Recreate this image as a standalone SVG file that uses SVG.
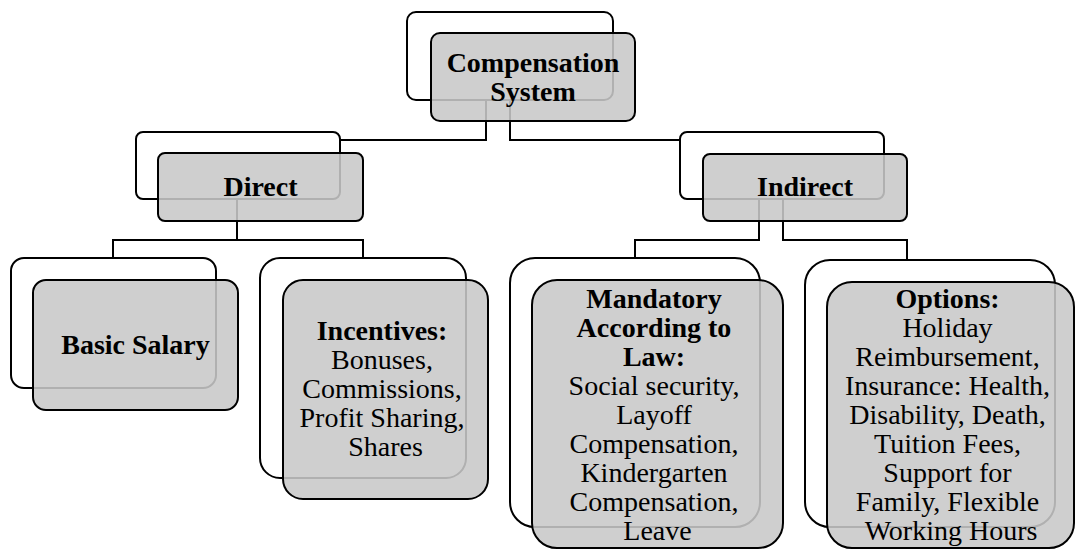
<svg xmlns="http://www.w3.org/2000/svg" width="1075" height="549" viewBox="0 0 1075 549">
  <style>
    .link { fill: none; stroke: #000; stroke-width: 2; }
    .back { fill: #fff; stroke: #000; stroke-width: 2; }
    .front { fill: #c8c8c8; fill-opacity: 0.88; stroke: #000; stroke-width: 2; }
    text { font-family: "Liberation Serif", "Times New Roman", serif; font-size: 28px; fill: #000; text-anchor: middle; }
    .b { font-weight: bold; }
  </style>

  <!-- tree connectors -->
  <g id="connectors">
    <path class="link" d="M486,100 V140 H340"/>
    <path class="link" d="M510,100 V140 H680"/>
    <path class="link" d="M237,199 V240 H113 V258"/>
    <path class="link" d="M237,240 H363 V258"/>
    <path class="link" d="M759,199 V240 H635 V258"/>
    <path class="link" d="M783,199 V240 H907 V260"/>
  </g>

  <g id="node-compensation">
    <rect class="back" x="407" y="12" width="206" height="88" rx="9"/>
    <rect class="front" x="431" y="33" width="204" height="88" rx="9"/>
    <text class="b"><tspan x="533" y="72">Compensation</tspan><tspan x="533" y="101">System</tspan></text>
  </g>

  <g id="node-direct">
    <rect class="back" x="136" y="132" width="204" height="67" rx="7"/>
    <rect class="front" x="158" y="153" width="205" height="68" rx="7"/>
    <text class="b" x="260.5" y="196">Direct</text>
  </g>

  <g id="node-indirect">
    <rect class="back" x="680" y="132" width="204" height="67" rx="7"/>
    <rect class="front" x="703" y="154" width="204" height="67" rx="7"/>
    <text class="b" x="805" y="196">Indirect</text>
  </g>

  <g id="node-basic-salary">
    <rect class="back" x="11" y="258" width="205" height="130" rx="13"/>
    <rect class="front" x="33" y="280" width="205" height="130" rx="13"/>
    <text class="b" x="135.5" y="354">Basic Salary</text>
  </g>

  <g id="node-incentives">
    <rect class="back" x="260" y="258" width="206" height="220" rx="20"/>
    <rect class="front" x="283" y="280" width="205" height="219" rx="20"/>
    <text>
      <tspan class="b" x="385.5" y="340">Incentives:</tspan>
      <tspan x="385.5" y="369">Bonuses,</tspan>
      <tspan x="385.5" y="398">Commissions,</tspan>
      <tspan x="385.5" y="427">Profit Sharing,</tspan>
      <tspan x="385.5" y="456">Shares</tspan>
    </text>
  </g>

  <g id="node-mandatory">
    <rect class="back" x="510" y="258" width="250" height="269" rx="25"/>
    <rect class="front" x="532" y="280" width="251" height="268" rx="25"/>
    <text>
      <tspan class="b" x="657.5" y="308">Mandatory</tspan>
      <tspan class="b" x="657.5" y="337">According to</tspan>
      <tspan class="b" x="657.5" y="366">Law:</tspan>
      <tspan x="657.5" y="395">Social security,</tspan>
      <tspan x="657.5" y="424">Layoff</tspan>
      <tspan x="657.5" y="453">Compensation,</tspan>
      <tspan x="657.5" y="482">Kindergarten</tspan>
      <tspan x="657.5" y="511">Compensation,</tspan>
      <tspan x="657.5" y="540">Leave</tspan>
    </text>
  </g>

  <g id="node-options">
    <rect class="back" x="805" y="260" width="250" height="267" rx="25"/>
    <rect class="front" x="827" y="282" width="247" height="266" rx="25"/>
    <text>
      <tspan class="b" x="951" y="308">Options:</tspan>
      <tspan x="951" y="337">Holiday</tspan>
      <tspan x="951" y="366">Reimbursement,</tspan>
      <tspan x="951" y="395">Insurance: Health,</tspan>
      <tspan x="951" y="424">Disability, Death,</tspan>
      <tspan x="951" y="453">Tuition Fees,</tspan>
      <tspan x="951" y="482">Support for</tspan>
      <tspan x="951" y="511">Family, Flexible</tspan>
      <tspan x="951" y="540">Working Hours</tspan>
    </text>
  </g>
</svg>
